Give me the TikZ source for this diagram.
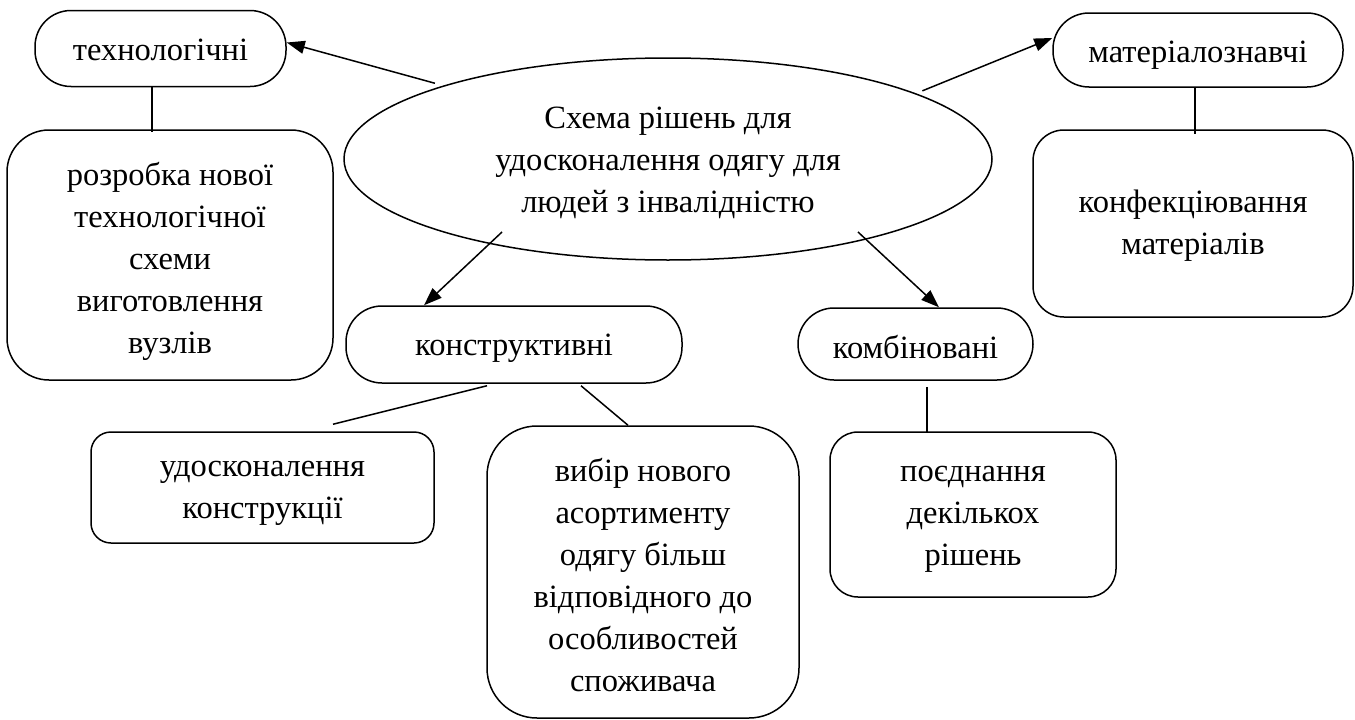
\documentclass[tikz,border=0pt]{standalone}
\usepackage{fontspec}
\setmainfont{LiberationSerif}[Extension=.ttf, UprightFont=*-Regular, BoldFont=*-Bold]
\usetikzlibrary{shapes.geometric,arrows.meta,calc}
\newcommand\topstr[1][31pt]{\rule{0pt}{#1}}
\newcommand\botstr{\rule[-8pt]{0pt}{8pt}}
\begin{document}
\begin{tikzpicture}[x=1pt,y=-1pt,
  every node/.style={font=\fontsize{32.5}{42}\selectfont, align=center, inner sep=0pt},
  ln/.style={line width=1.5pt},
  pill/.style={draw, ln, rounded corners=36pt},
  rbox/.style={draw, ln},
  arr/.style={ln, -{Triangle[length=18pt,width=13pt]}}
]
\useasboundingbox (0,0) rectangle (1355,720);
% nodes
\node[pill, minimum width=251pt, minimum height=76pt] (tech) at (160.5,48.5) {\topstr[32pt]технологічні\botstr};
\node[rbox, rounded corners=42pt, minimum width=326pt, minimum height=250pt] (rozr) at (170,255)
  {\topstr[37pt]розробка нової\\технологічної\\схеми\\виготовлення\\вузлів\botstr};
\node[draw, ln, ellipse, minimum width=648pt, minimum height=202pt, outer sep=6pt] (ell) at (668,159)
  {\topstr[31pt]Схема рішень для\\удосконалення одягу для\\людей з інвалідністю\botstr};
\node[pill, minimum width=290pt, minimum height=74pt] (mat) at (1198,50) {\topstr[32.6pt]матеріалознавчі\botstr};
\node[rbox, rounded corners=31pt, minimum width=320pt, minimum height=187pt] (konf) at (1193,223.5)
  {\topstr[27.5pt]конфекціювання\\матеріалів\botstr};
\node[pill, minimum width=336pt, minimum height=77pt] (konstr) at (514,344.5) {\topstr[30pt]конструктивні\botstr};
\node[pill, minimum width=235pt, minimum height=72pt] (komb) at (915.5,344) {\topstr[36pt]комбіновані\botstr};
\node[rbox, rounded corners=20pt, minimum width=343pt, minimum height=111pt] (udosk) at (262.5,487.5)
  {\topstr[27.5pt]удосконалення\\конструкції\botstr};
\node[rbox, rounded corners=50pt, minimum width=312pt, minimum height=292pt] (vybir) at (643,572)
  {\topstr[37pt]вибір нового\\асортименту\\одягу більш\\відповідного до\\особливостей\\споживача\botstr};
\node[rbox, rounded corners=28pt, minimum width=286pt, minimum height=165pt] (poed) at (973,514.5)
  {\topstr[25pt]поєднання\\декількох\\рішень\botstr};
% free ends inside the ellipse
\coordinate (s1) at (502,232);
\coordinate (s2) at (858,232);
% arrows
\draw[arr] (ell.162.6) -- ($(tech.east)+(0,-6)$);
\draw[arr] (ell.15.3) -- ($(mat.west)+(0,-12)$);
\draw[arr] (s1) -- ($(konstr.north)+(-90,0)$);
\draw[arr] (s2) -- ($(komb.north)+(23.5,0)$);
% plain connectors
\coordinate (t1) at ($(tech.south)+(-8.5,0)$);
\draw[ln] (t1) -- ($(t1 |- rozr.north)+(0,3)$);
\coordinate (m1) at ($(mat.south)+(-3,0)$);
\draw[ln] (m1) -- ($(m1 |- konf.north)+(0,5)$);
\coordinate (k1) at ($(komb.south)+(11.5,6)$);
\draw[ln] (k1) -- ($(k1 |- poed.north)+(0,1)$);
\draw[ln] ($(konstr.south)+(-27,2)$) -- ($(udosk.north)+(70.5,-7)$);
\draw[ln] ($(konstr.south)+(67,2)$) -- ($(vybir.north)+(-15,0)$);
\end{tikzpicture}
\end{document}
